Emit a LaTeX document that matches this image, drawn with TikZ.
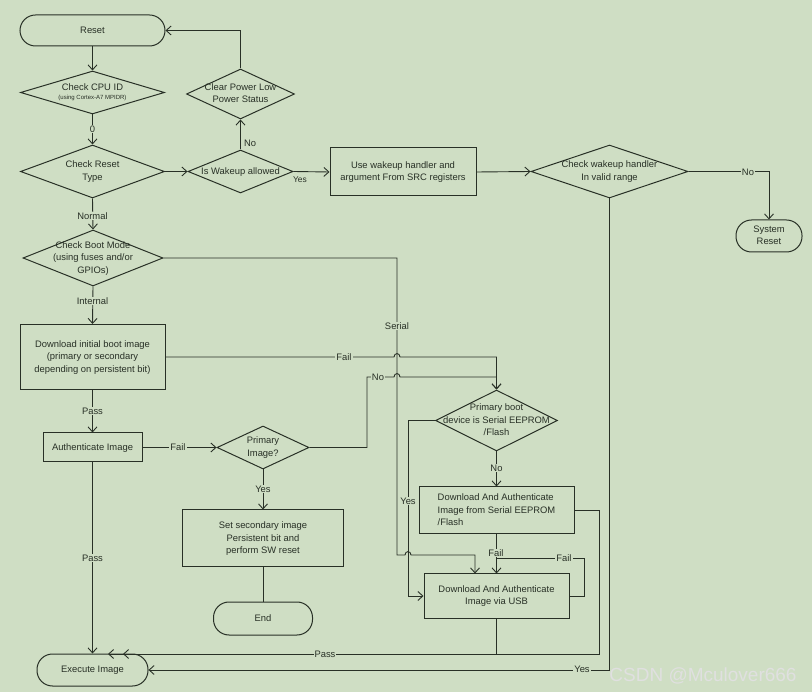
\documentclass[tikz,border=0pt]{standalone}
\usepackage{fontspec}
\setmainfont{Liberation Sans}
\usetikzlibrary{shapes.geometric,arrows.meta}
\definecolor{bg}{RGB}{207,222,196}
\definecolor{ln}{RGB}{40,48,38}
\newcommand{\zt}[1]{\raisebox{-2.4pt}[0pt][0pt]{\makebox[0pt]{\begin{tabular}{@{}c@{}}#1\end{tabular}}}}
\newcommand{\zl}[1]{\raisebox{-2.4pt}[0pt][0pt]{\makebox[0pt]{\begin{tabular}{@{}l@{}}#1\end{tabular}}}}
\begin{document}
\begin{tikzpicture}[x=1pt,y=-1pt,
  every node/.style={font=\fontsize{9.4}{12.5}\selectfont, text=ln},
  base/.style={draw=ln, line width=1pt, inner sep=0pt},
  box/.style={base, rectangle},
  dia/.style={base, diamond},
  term/.style={base, rectangle, rounded corners=15.5pt},
  conn/.style={draw=ln, line width=0.9pt},
  arr/.style={conn, -{Straight Barb[length=5pt,width=9pt]}},
  lbl/.style={fill=bg, inner sep=1pt},
  plain/.style={inner sep=1pt}]
\fill[bg] (0,0) rectangle (812,692);
\useasboundingbox (0,0) rectangle (812,692);

% nodes
\node[term, minimum width=145pt, minimum height=31pt] (reset) at (92.5,30.5) {\zt{Reset}};
\node[dia, minimum width=144pt, minimum height=43pt] (cpu) at (92.5,92.5) {\zt{Check CPU ID\\[-3pt]{\fontsize{6}{7}\selectfont (using Cortex-A7 MPIDR)}}};
\node[dia, minimum width=144pt, minimum height=53pt] (crt) at (92.5,171.5) {\zt{Check Reset\\Type}};
\node[dia, minimum width=105pt, minimum height=43pt] (wake) at (240.5,171.5) {\zt{Is Wakeup allowed}};
\node[dia, minimum width=108pt, minimum height=50pt] (clr) at (240.5,94) {\zt{Clear Power Low\\Power Status}};
\node[box, minimum width=146pt, minimum height=48pt] (use) at (403,172) {\zt{Use wakeup handler and\\argument From SRC registers}};
\node[dia, minimum width=157pt, minimum height=53pt] (cwh) at (609.5,171.5) {\zt{Check wakeup handler\\In valid range}};
\node[term, minimum width=66pt, minimum height=32pt] (sys) at (769,236) {\zt{System\\Reset}};
\node[dia, minimum width=140pt, minimum height=56pt] (cbm) at (93,258) {\zt{Check Boot Mode\\(using fuses and/or\\GPIOs)}};
\node[box, minimum width=145pt, minimum height=65pt] (dl) at (92.5,357) {\zt{Download initial boot image\\(primary or secondary\\depending on persistent bit)}};
\node[box, minimum width=99pt, minimum height=29pt] (auth) at (92.5,447.5) {\zt{Authenticate Image}};
\node[dia, minimum width=92pt, minimum height=43pt] (pim) at (263,447.5) {\zt{Primary\\Image?}};
\node[box, minimum width=161pt, minimum height=57pt] (set) at (263,538.5) {\zt{Set secondary image\\Persistent bit and\\perform SW reset}};
\node[term, minimum width=99pt, minimum height=33pt] (endn) at (263,618.5) {\zt{End}};
\node[term, minimum width=111pt, minimum height=32pt] (exe) at (92.5,670) {\zt{Execute Image}};
\node[dia, minimum width=122pt, minimum height=61pt] (pbd) at (496.5,420.5) {\zt{Primary boot\\device is Serial EEPROM\\/Flash}};
\node[box, minimum width=155pt, minimum height=47pt] (ee) at (496.5,510.5) {\zl{Download And Authenticate\\Image from Serial EEPROM\\/Flash}};
\node[box, minimum width=145pt, minimum height=44pt] (usb) at (496.5,596) {\zt{Download And Authenticate\\Image via USB}};

% helper coordinates
\coordinate (serTop) at (397,258);
\coordinate (serBot) at (397,555);
\coordinate (serEnd) at (475,555);
\coordinate (failJ) at (496.5,357);
\coordinate (noJ) at (496.5,377);
\coordinate (noBend) at (367,377);
\coordinate (yesBend) at (408,596);
\coordinate (loopBend) at (584,558);
\coordinate (loopEnd) at (496.5,558);
\coordinate (passA) at (496.5,654);
\coordinate (passAend) at (123,654);
\coordinate (passB) at (599,654);
\coordinate (passBend) at (108,654);

% connectors
\draw[arr] (reset) -- (cpu);
\draw[arr] (cpu) -- (crt);
\draw[arr] (crt.east) -- (wake.west);
\draw[arr] (wake.north) -- (clr.south);
\draw[arr] (clr.north) |- (reset.east);
\draw[arr] (wake.east) -- (use.west);
\draw[arr] (use.east) -- (cwh.west);
\draw[arr] (cwh.east) -| (sys.north);
\draw[arr] (crt.south) -- (cbm.north);
\draw[arr] (serTop -| cbm.east) -- (serTop) -- (serBot) -- (405,555) .. controls (405,550.5) and (411,550.5) .. (411,555) -- (serEnd) -- (serEnd |- usb.north);
\draw[arr] (cbm.south) -- (dl.north);
\draw[arr] (dl.east) -- (394,357) .. controls (394,352.5) and (400,352.5) .. (400,357) -- (failJ) -- (pbd.north);
\draw[arr] (dl.south) -- (auth.north);
\draw[arr] (auth.east) -- (pim.west);
\draw[arr] (pim.east) -| (noBend) -- (394,377) .. controls (394,372.5) and (400,372.5) .. (400,377) -- (noJ) -- (pbd.north);
\draw[arr] (pim.south) -- (set.north);
\draw[conn] (set.south) -- (endn.north);
\draw[arr] (auth.south) -- (exe.north);
\draw[arr] (pbd.west) -| (yesBend) -- (usb.west);
\draw[arr] (pbd.south) -- (ee.north);
\draw[arr] (ee.south) -- (usb.north);
\draw[conn] (usb.east) -| (loopBend) -- (loopEnd);
\draw[arr] (usb.south) -- (passA) -- (passAend);
\draw[arr] (ee.east) -| (passB) -- (passBend);
\draw[arr] (cwh.south) |- (exe.east);

% labels
\node[lbl] (l0) at (92.5,129) {0};
\node[plain, anchor=west] (lno1) at (243,143) {No};
\node[plain, font=\fontsize{8.4}{10}\selectfont] (lyes1) at (300,180) {Yes};
\node[lbl] (lno2) at (748,172) {No};
\node[lbl] (lnorm) at (92.5,216) {Normal};
\node[lbl] (lint) at (92.5,301) {Internal};
\node[lbl] (lser) at (397,326) {Serial};
\node[lbl] (lfail1) at (344,357) {Fail};
\node[lbl] (lno3) at (378,377) {No};
\node[lbl] (lpass1) at (92.5,411) {Pass};
\node[lbl] (lfail2) at (178,447.5) {Fail};
\node[lbl] (lyes2) at (263,489) {Yes};
\node[lbl] (lpass2) at (92.5,558) {Pass};
\node[lbl] (lyes3) at (408,501) {Yes};
\node[lbl] (lno4) at (496.5,468) {No};
\node[lbl] (lfail3) at (496,553) {Fail};
\node[lbl] (lfail4) at (564,558) {Fail};
\node[lbl] (lpass3) at (325,654) {Pass};
\node[lbl] (lyes4) at (582,669) {Yes};

% watermark
\node[font=\fontsize{19}{22}\selectfont, text=white!88!black] (wm) at (703,676) {CSDN @Mculover666};
\end{tikzpicture}
\end{document}
